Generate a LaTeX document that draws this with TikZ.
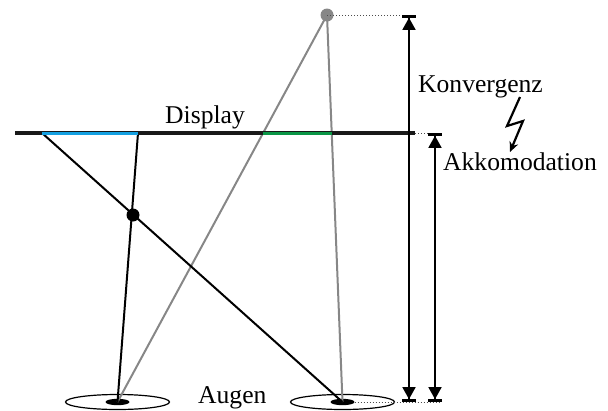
\documentclass[tikz,border=0pt]{standalone}
\usepackage{fontspec}
\setmainfont{Liberation Serif}
\usetikzlibrary{arrows.meta}
\definecolor{dispblue}{RGB}{20,160,225}
\definecolor{dispgreen}{RGB}{10,150,70}
\definecolor{raygray}{RGB}{135,135,135}
\tikzset{
  ray/.style={line width=2pt},
  grayray/.style={line width=2pt, raygray},
  guide/.style={line width=1pt, dotted, black!70},
  dimline/.style={line width=1.5pt,
    {Bar[width=14pt,line width=2.8pt]Triangle[width=13pt,length=12pt]}-{Triangle[width=13pt,length=12pt]Bar[width=14pt,line width=2.8pt]}},
  lbl/.style={font=\fontsize{25.6}{28}\selectfont, inner sep=0pt, anchor=base west},
  eye/.style={draw, line width=1.2pt},
}
\begin{document}
\begin{tikzpicture}[x=1pt,y=-1pt]
\useasboundingbox (0,0) rectangle (608,410);
% key points
\coordinate (dL) at (15,133);
\coordinate (dR) at (415,133);
\coordinate (b1) at (42,133);
\coordinate (b2) at (138,133);
\coordinate (g1) at (263.3,133);
\coordinate (g2) at (331.6,133);
\coordinate (eyeL) at (117.5,402);
\coordinate (eyeR) at (342.5,402);
\coordinate (obj) at (327,15);
\coordinate (topguide) at (403,15);
\coordinate (midguide) at (429,133);
\coordinate (botguide) at (441,402);
\coordinate (arrA1) at (409,15);
\coordinate (arrA2) at (409,402);
\coordinate (arrB1) at (435,133);
\coordinate (arrB2) at (435,402);
\coordinate (dot) at (133,215);
% eyes
\draw[eye] (eyeL) ellipse [x radius=52, y radius=7.5];
\draw[eye] (eyeR) ellipse [x radius=52, y radius=7.5];
\fill (eyeL) ellipse [x radius=12, y radius=3.2];
\fill (eyeR) ellipse [x radius=12, y radius=3.2];
% rays
\draw[grayray] (obj) -- (eyeL);
\draw[grayray] (obj) -- (eyeR);
\draw[ray] (b1) -- (eyeR);
\draw[ray] (b2) -- (eyeL);
% display
\draw[line width=4pt, black!90] (dL) -- (dR);
\draw[line width=3pt, dispblue] (b1) -- (b2);
\draw[line width=3pt, dispgreen] (g1) -- (g2);
% dots
\fill[raygray] (obj) circle (6.5);
\fill (dot) circle (6.5);
% guides
\draw[guide] (obj) -- (topguide);
\draw[guide] (dR) -- (midguide);
\draw[guide] (eyeR) ++(12,0) -- (botguide);
% dimension arrows
\draw[dimline] (arrA1) -- (arrA2);
\draw[dimline] (arrB1) -- (arrB2);
% lightning
\draw[line width=2.2pt, -{Stealth[length=10pt,width=9pt]}] (520,97) -- (507,126) -- (523,121) -- (510,152);
% labels
\node[lbl] (display) at (165,123) {Display};
\node[lbl] (konv) at (418,92) {Konvergenz};
\node[lbl] (akko) at (443,170) {Akkomodation};
\node[lbl] (augen) at (198,403) {Augen};
\end{tikzpicture}
\end{document}
